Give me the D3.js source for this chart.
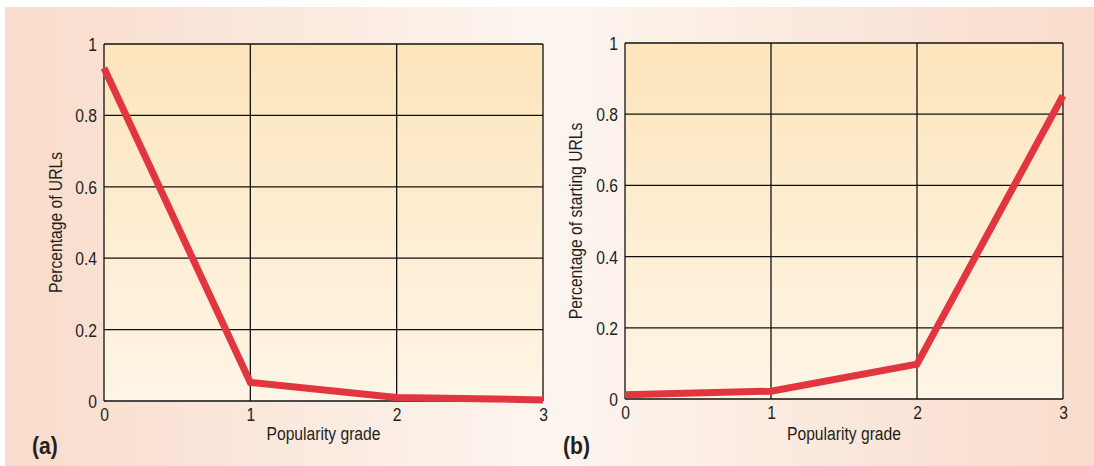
<!DOCTYPE html>
<html><head><meta charset="utf-8">
<script src="https://cdn.jsdelivr.net/npm/d3@7"></script>
<style>
html,body{margin:0;padding:0;background:#fff;}
svg{display:block;}
text{font-family:"Liberation Sans",Arial,sans-serif;fill:#231f20;}
</style></head>
<body>
<script>
const grades = [0, 1, 2, 3];
const xTicks = [0, 1, 2, 3];
const yTicks = [0, 0.2, 0.4, 0.6, 0.8, 1];
const yTickLabels = ["0", "0.2", "0.4", "0.6", "0.8", "1"];
const seriesA = [0.933, 0.052, 0.01, 0.003];
const seriesB = [0.012, 0.022, 0.098, 0.852];
const panelLabels = ["(a)", "(b)"];
const yTitles = ["Percentage of URLs", "Percentage of starting URLs"];
const xTitle = "Popularity grade";

const W = 1094, H = 466;
const SX = 0.87;
const svg = d3.select("body").append("svg").attr("width", W).attr("height", H);
const defs = svg.append("defs");
const bg = defs.append("linearGradient").attr("id","bg").attr("x1","0").attr("x2","1").attr("y1","0").attr("y2","0");
bg.append("stop").attr("offset","0").attr("stop-color","#f9dccb");
bg.append("stop").attr("offset","0.5").attr("stop-color","#fcf5ef");
bg.append("stop").attr("offset","1").attr("stop-color","#f9dccb");
const pg = defs.append("linearGradient").attr("id","pg").attr("x1","0").attr("x2","0").attr("y1","0").attr("y2","1");
pg.append("stop").attr("offset","0").attr("stop-color","#fde5bc");
pg.append("stop").attr("offset","1").attr("stop-color","#fef5e6");

svg.append("rect").attr("x",5).attr("y",7).attr("width",W-5).attr("height",H-7).attr("fill","url(#bg)");

const panels = [
  {data: seriesA, x0: 104, x1: 543, y0: 401, y1: 44, ylab: 56.5, lab: 32, title: yTitles[0], name: panelLabels[0]},
  {data: seriesB, x0: 625, x1: 1063, y0: 399, y1: 43, ylab: 576.5, lab: 563, title: yTitles[1], name: panelLabels[1]}
];

panels.forEach(p => {
  const x = d3.scaleLinear().domain([0,3]).range([p.x0, p.x1]);
  const y = d3.scaleLinear().domain([0,1]).range([p.y0, p.y1]);
  const g = svg.append("g");
  g.append("rect").attr("x",p.x0).attr("y",p.y1).attr("width",p.x1-p.x0).attr("height",p.y0-p.y1).attr("fill","url(#pg)");
  g.selectAll(".hg").data(yTicks).enter().append("line")
    .attr("x1",p.x0).attr("x2",p.x1).attr("y1",d=>y(d)).attr("y2",d=>y(d))
    .attr("stroke","#111").attr("stroke-width",1.3);
  g.selectAll(".vg").data(xTicks).enter().append("line")
    .attr("y1",p.y0).attr("y2",p.y1).attr("x1",d=>x(d)).attr("x2",d=>x(d))
    .attr("stroke","#111").attr("stroke-width",1.3);
  const ya = g.append("g").attr("transform",`translate(${p.x0},0)`)
    .call(d3.axisLeft(y).tickValues(yTicks).tickFormat((d,i)=>yTickLabels[i]).tickSize(0).tickPadding(7));
  ya.select(".domain").remove();
  ya.selectAll("text").style("font-size","18px").attr("fill","#231f20").attr("dy","0.36em")
    .attr("x", -7/SX).attr("transform",`scale(${SX},1)`);
  const xa = g.append("g").attr("transform",`translate(0,${p.y0})`)
    .call(d3.axisBottom(x).tickValues(xTicks).tickFormat(d3.format("d")).tickSize(0).tickPadding(7));
  xa.select(".domain").remove();
  xa.selectAll("text").style("font-size","18px").attr("fill","#231f20").attr("transform",`scale(${SX},1)`);
  g.append("path").datum(p.data)
    .attr("d", d3.line().x((d,i)=>x(grades[i])).y(d=>y(d)))
    .attr("fill","none").attr("stroke","#e1363f").attr("stroke-width",7)
    .attr("stroke-linejoin","miter").attr("stroke-linecap","butt");
  g.append("text").attr("transform",`translate(${p.ylab},${(p.y0+p.y1)/2}) rotate(-90) scale(${SX},1)`)
    .attr("text-anchor","middle").attr("dominant-baseline","central").style("font-size","18px").text(p.title);
  g.append("text").attr("transform",`translate(${(p.x0+p.x1)/2},440) scale(${SX},1)`).attr("text-anchor","middle")
    .style("font-size","18px").text(xTitle);
  g.append("text").attr("transform",`translate(${p.lab},454) scale(0.88,1)`).style("font-size","24px").style("font-weight","bold").text(p.name);
});
</script>
</body></html>
